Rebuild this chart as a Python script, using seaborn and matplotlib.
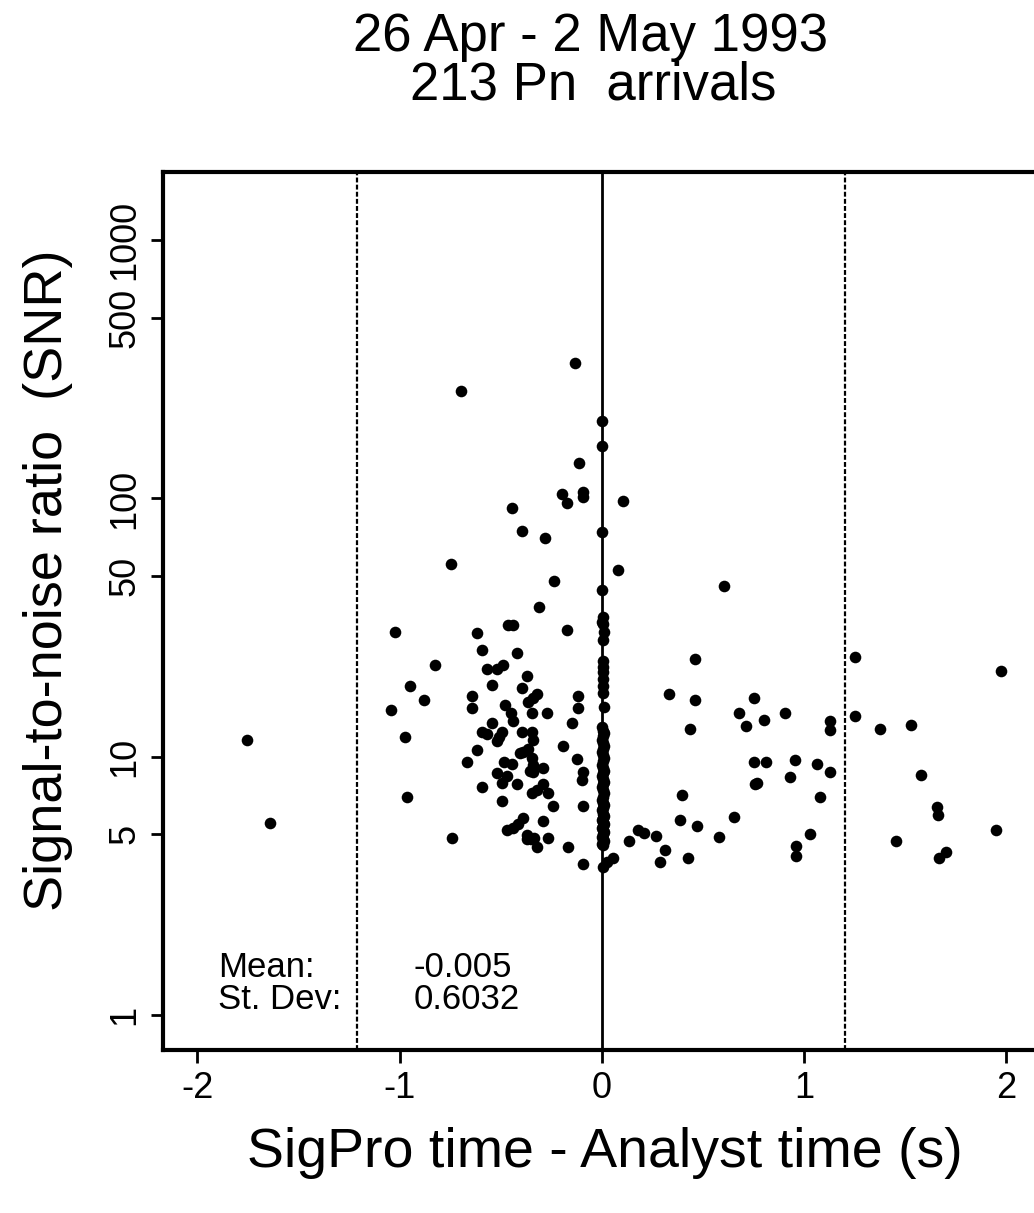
import numpy as np
import pandas as pd
import matplotlib
matplotlib.use("Agg")
import matplotlib.pyplot as plt
import seaborn as sns
from matplotlib.ticker import FixedLocator, NullLocator, FixedFormatter

# ---------------- data ----------------
# arrivals scattered away from zero offset (s, SNR)
offset_off = [
    -0.133, -0.697, -0.114, -0.198, -0.094, -0.094, -0.173, 0.104, -0.445, -0.395,
    -0.280, -0.746, -0.237, 0.603, 0.080,
    -1.023, -0.825, -0.949, -0.880, -1.043, -0.974, -1.755, -0.964, -1.641, -0.741,
    -0.311, -0.465, -0.440, -0.618, -0.173, -0.593, -0.420, -0.568, -0.519, -0.489,
    -0.544, -0.371, -0.395, -0.321, -0.341, -0.366, -0.643, -0.643, -0.479, -0.119,
    -0.119, -0.450, -0.440, -0.346, -0.272, -0.148, -0.544, -0.593, -0.568, -0.494,
    -0.509, -0.519, -0.395, -0.346, -0.341, -0.193, -0.618, -0.366, -0.390, -0.405,
    -0.346, -0.341, -0.667, -0.484, -0.445, -0.124, -0.356, -0.341, -0.292, -0.519,
    -0.470, -0.094, -0.099, -0.494, -0.420, -0.593, -0.292, -0.321, -0.346, -0.267,
    -0.494, -0.242, -0.094, -0.390, -0.415, -0.440, -0.470, -0.292, -0.371, -0.351,
    -0.371, -0.336, -0.267, -0.321, -0.168, -0.094,
    0.178, 0.133, 0.054, 0.025,
    0.460, 1.251, 1.972, 0.331, 0.460, 0.751, 0.677, 0.905, 1.251, 0.801,
    1.127, 1.127, 0.712, 0.435, 1.374, 1.527, 0.751, 0.811, 0.954, 1.063,
    1.127, 1.577, 0.766, 0.756, 0.929, 0.395, 1.078, 1.656, 1.661, 0.386,
    0.470, 0.652, 0.208, 0.267, 0.578, 1.028, 1.453, 1.948, 0.311, 0.959,
    0.959, 0.287, 0.425, 1.700, 1.666,
]
snr_off = [
    334, 260, 137, 104, 106, 101, 96, 98, 92, 75,
    70, 55.5, 47.7, 46, 52.6,
    30.5, 22.7, 18.7, 16.6, 15.1, 11.9, 11.6, 7.0, 5.55, 4.85,
    38.1, 32.2, 32.2, 30.0, 30.8, 25.8, 25.3, 21.9, 21.9, 22.7,
    19.0, 20.6, 18.5, 17.5, 16.9, 16.3, 17.2, 15.4, 15.9, 17.1,
    15.4, 14.8, 13.7, 14.7, 14.7, 13.5, 13.5, 12.4, 12.2, 12.4,
    11.9, 11.5, 12.5, 12.4, 11.6, 11.0, 10.6, 10.7, 10.4, 10.3,
    9.9, 9.3, 9.5, 9.5, 9.4, 9.8, 8.8, 8.7, 9.0, 8.6,
    8.4, 8.7, 8.1, 7.9, 7.8, 7.6, 7.8, 7.45, 7.25, 7.25,
    6.75, 6.46, 6.46, 5.8, 5.5, 5.3, 5.2, 5.65, 4.98, 4.8,
    4.8, 4.85, 4.85, 4.48, 4.48, 3.85,
    5.2, 4.7, 4.06, 3.92,
    23.8, 24.4, 21.4, 17.5, 16.5, 16.8, 14.8, 14.8, 14.3, 13.8,
    13.7, 12.7, 13.1, 12.8, 12.8, 13.2, 9.5, 9.5, 9.7, 9.4,
    8.75, 8.5, 7.9, 7.86, 8.3, 7.1, 7.0, 6.4, 5.96, 5.7,
    5.4, 5.85, 5.08, 4.94, 4.9, 5.03, 4.73, 5.2, 4.36, 4.52,
    4.13, 3.92, 4.06, 4.25, 4.06,
]

# arrivals piled up at (nearly) zero offset
offset_zero = [
    0.0, 0.0, 0.0, 0.0, 0.005,
    0.005, 0.0, 0.005, 0.01, 0.005, 0.005, 0.005, 0.005, 0.005, 0.005,
    0.005, 0.01, 0.0, 0.005, 0.01, 0.005, 0.0, 0.005, 0.01, 0.005,
    0.0, 0.005, 0.01, 0.005, 0.0, 0.005, 0.01, 0.005, 0.0, 0.005,
    0.01, 0.005, 0.0, 0.005, 0.01, 0.005, 0.0, 0.005, 0.01, 0.005,
    0.0, 0.005, 0.01, 0.005, 0.0, 0.005, 0.01, 0.005, 0.0, 0.005,
    0.01, 0.005, 0.0, 0.005, 0.01, 0.005, 0.0, 0.005,
]
snr_zero = [
    200, 159, 74, 44, 3.75,
    34.6, 33.1, 32.5, 30.5, 28.4, 23.4, 22.3, 21.2, 19.9, 18.7,
    17.7, 15.5,
    13.0, 12.6, 12.3, 12.0, 11.6, 11.3, 11.0, 10.7, 10.4, 10.1,
    9.9, 9.6, 9.3, 9.0, 8.8, 8.6, 8.4, 8.2, 8.0, 7.8,
    7.6, 7.4, 7.2, 7.0, 6.8, 6.6, 6.5, 6.3, 6.2, 6.0,
    5.9, 5.8, 5.7, 5.6, 5.5, 5.4, 5.3, 5.2, 5.1, 5.0,
    4.9, 4.8, 4.7, 4.65, 4.6, 4.55,
]

mean_val = -0.005
sd_val = 0.6032
n_arrivals = 213

title_lines = ["26 Apr - 2 May 1993", f"{n_arrivals} Pn  arrivals"]
x_label = "SigPro time - Analyst time (s)"
y_label = "Signal-to-noise ratio  (SNR)"
x_ticks = [-2, -1, 0, 1, 2]
y_ticks = [1, 5, 10, 50, 100, 500, 1000]
y_tick_labels = ["1", "5", "10", "50", "100", "500", "1000"]

df = pd.DataFrame({
    "offset": offset_off + offset_zero[:len(snr_zero)],
    "snr": snr_off + snr_zero,
})

# ---------------- figure ----------------
sns.set_theme(style="white")
plt.rcParams['font.family'] = ['Liberation Sans', 'DejaVu Sans']
plt.rcParams.update({
    'text.color': 'black', 'axes.labelcolor': 'black',
    'xtick.color': 'black', 'ytick.color': 'black',
})

fig = plt.figure(figsize=(10.34, 12.13), dpi=100)
ax = fig.add_axes([0.1576, 0.1344, 0.849, 0.7238])

ax.set_yscale('log')
ax.axvline(0, color='black', lw=2.0, zorder=1)
for xv in (mean_val - 2 * sd_val, mean_val + 2 * sd_val):
    ax.axvline(xv, color='black', lw=1.6, ls=(0, (2.2, 1.0)), zorder=1)

sns.scatterplot(data=df, x="offset", y="snr", color="black", s=70,
                linewidth=0, ax=ax, zorder=3, legend=False)

ax.set_xlim(-2.17, 2.17)
ax.set_ylim(0.73, 1840)

ax.xaxis.set_major_locator(FixedLocator(x_ticks))
ax.set_xticklabels([str(t) for t in x_ticks])
ax.yaxis.set_major_locator(FixedLocator(y_ticks))
ax.yaxis.set_major_formatter(FixedFormatter(y_tick_labels))
ax.yaxis.set_minor_locator(NullLocator())
ax.xaxis.set_minor_locator(NullLocator())

for s in ax.spines.values():
    s.set_linewidth(3)
    s.set_color('black')

ax.tick_params(axis='both', which='major', direction='out', length=9,
               width=2, color='black', labelcolor='black', labelsize=26,
               bottom=True, left=True)
ax.tick_params(axis='x', pad=6)
ax.tick_params(axis='y', pad=6)
for lab in ax.get_yticklabels():
    lab.set_rotation(90)
    lab.set_va('center')

ax.set_xlabel(x_label, fontsize=40)
ax.set_ylabel(y_label, fontsize=39)
ax.xaxis.set_label_coords(0.503, -0.088)
ax.yaxis.set_label_coords(-0.103, 0.535)

# statistics text
stat_kw = dict(transform=ax.transAxes, fontsize=25, va='center', ha='left')
ax.text(0.063, 0.094, "Mean:", **stat_kw)
ax.text(0.063, 0.057, "St. Dev:", **stat_kw)
ax.text(0.285, 0.094, f"{mean_val:.3f}", **stat_kw)
ax.text(0.285, 0.057, f"{sd_val:.4f}", **stat_kw)

fig.text(0.571, 1 - 37 / 1213, title_lines[0], fontsize=38, ha='center', va='center')
fig.text(0.574, 1 - 86 / 1213, title_lines[1], fontsize=38, ha='center', va='center')

fig.savefig("out.png", dpi=100)
